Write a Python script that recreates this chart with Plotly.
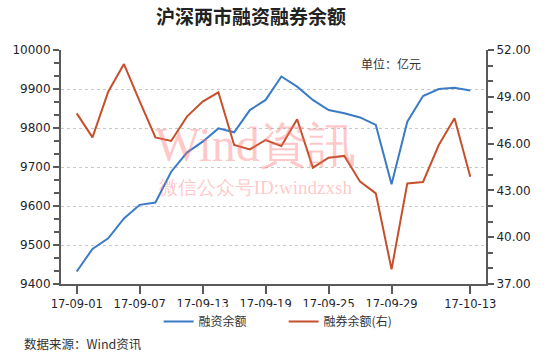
import plotly.graph_objects as go

dates = ["17-09-01","17-09-04","17-09-05","17-09-06","17-09-07","17-09-08",
         "17-09-11","17-09-12","17-09-13","17-09-14","17-09-15","17-09-18",
         "17-09-19","17-09-20","17-09-21","17-09-22","17-09-25","17-09-26",
         "17-09-27","17-09-28","17-09-29","17-10-09","17-10-10","17-10-11",
         "17-10-12","17-10-13"]
margin_fin = [9432, 9490, 9517, 9568, 9603, 9609, 9688, 9737, 9765, 9799,
              9789, 9846, 9872, 9932, 9906, 9872, 9846, 9838, 9827, 9808,
              9656, 9816, 9882, 9900, 9903, 9896]
short_sell = [47.94, 46.40, 49.33, 51.10, 48.70, 46.40, 46.17, 47.73, 48.69, 49.29,
              45.91, 45.63, 46.23, 45.85, 47.56, 44.46, 45.10, 45.21, 43.56, 42.81,
              37.94, 43.45, 43.54, 45.91, 47.62, 43.88]
x_ticks = ["17-09-01","17-09-07","17-09-13","17-09-19","17-09-25","17-09-29","17-10-13"]

BLUE = "#3B7BC6"
RED = "#C6502B"
AX = "#5a5a5a"
TXT = "#1f1f2e"
CJK = "Noto Sans CJK SC"
NUM = "DejaVu Sans"
PINK = "rgba(255,110,110,0.38)"

fig = go.Figure()
fig.add_trace(go.Scatter(x=dates, y=margin_fin, name="融资余额", mode="lines",
                         line=dict(color=BLUE, width=2), yaxis="y"))
fig.add_trace(go.Scatter(x=dates, y=short_sell, name="融券余额(右)", mode="lines",
                         line=dict(color=RED, width=2), yaxis="y2"))

fig.update_layout(
    width=550, height=354,
    margin=dict(l=55, r=64, t=50, b=70),
    paper_bgcolor="white", plot_bgcolor="white",
    showlegend=True,
    legend=dict(orientation="h", x=(154 - 55) / 431, xanchor="left", y=-0.16, yanchor="middle",
                font=dict(family=CJK, size=12, color="#333"), itemwidth=30,
                entrywidth=80, tracegroupgap=0),
    title=dict(text="<b>沪深两市融资融券余额</b>", x=251 / 550, xanchor="center",
               y=1 - 17 / 354, yanchor="middle", yref="container",
               font=dict(family=CJK, size=19, color="#222")),
    xaxis=dict(type="category", range=[-1, 26], tickmode="array", tickvals=x_ticks,
               ticktext=x_ticks, showline=True, linecolor=AX, linewidth=2,
               ticks="outside", ticklen=8, tickwidth=1.5, tickcolor=AX,
               showgrid=False, zeroline=False,
               tickfont=dict(family=NUM, size=11.5, color=TXT)),
    yaxis=dict(range=[9400, 10000], tickmode="linear", tick0=9400, dtick=100,
               tickformat="d", showline=True, linecolor=AX,
               linewidth=2, ticks="outside", ticklen=6, tickwidth=1.5, tickcolor=AX,
               minor=dict(ticks="outside", ticklen=5, tickcolor=AX, tickwidth=1.5,
                          dtick=100 / 3, tick0=9400, showgrid=False),
               showgrid=True, gridcolor="#c8c8c8", griddash="dot", gridwidth=1,
               zeroline=False, tickfont=dict(family=NUM, size=12, color=TXT)),
    yaxis2=dict(range=[37, 52], tickmode="linear", tick0=37, dtick=3, tickformat=".2f",
                overlaying="y", side="right", showline=True, linecolor=AX, linewidth=2,
                ticks="outside", ticklen=6, tickwidth=1.5, tickcolor=AX,
                minor=dict(ticks="outside", ticklen=5, tickcolor=AX, tickwidth=1.5,
                           dtick=1, tick0=37),
                showgrid=False, zeroline=False,
                tickfont=dict(family=NUM, size=12, color=TXT)),
)

fig.add_annotation(
    text="<span style='font-size:48px'>Wind資訊</span><br>"
         "<span style='font-size:19px'>微信公众号ID:windzxsh</span>",
    xref="paper", yref="paper", x=(252 - 55) / 431, y=(284 - 158) / 234,
    xanchor="center", yanchor="middle", showarrow=False,
    font=dict(family="Liberation Serif, serif", size=25, color=PINK))
fig.add_annotation(text="单位：亿元", xref="paper", yref="paper", x=(390 - 55) / 431,
                   y=(284 - 63) / 234, xanchor="center", yanchor="middle",
                   showarrow=False, font=dict(family=CJK, size=12, color="#333"))
fig.add_annotation(text="数据来源：Wind资讯", xref="paper", yref="paper",
                   x=(15 - 55) / 431, y=(284 - 343) / 234,
                   xanchor="left", yanchor="middle", showarrow=False,
                   font=dict(family=CJK, size=12.5, color="#333"))

fig.write_html("out.html")
